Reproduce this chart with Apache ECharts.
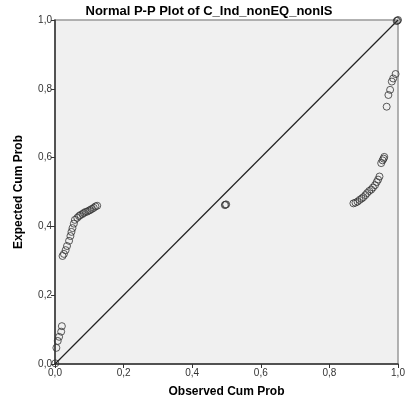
<!DOCTYPE html>
<html>
<head>
<meta charset="utf-8">
<script src="https://cdn.jsdelivr.net/npm/echarts@6/dist/echarts.min.js"></script>
<style>
html,body{margin:0;padding:0;background:#fff;}
#chart{width:418px;height:411px;}
</style>
</head>
<body>
<div id="chart"></div>
<script>
var titleText = 'Normal P-P Plot of C_Ind_nonEQ_nonIS';
var xAxisName = 'Observed Cum Prob';
var yAxisName = 'Expected Cum Prob';

// Observed cumulative probability (x) and expected cumulative probability (y)
var observed = [
  0.001, 0.004, 0.008, 0.012, 0.018, 0.020,
  0.022, 0.026, 0.031, 0.035, 0.041, 0.045, 0.048, 0.051, 0.055, 0.058,
  0.065, 0.070, 0.074, 0.080, 0.084, 0.089, 0.094, 0.099, 0.103, 0.108,
  0.113, 0.118, 0.123,
  0.495, 0.497, 0.499,
  0.870, 0.876, 0.882, 0.888, 0.894, 0.899, 0.905, 0.910, 0.916, 0.922,
  0.927, 0.933, 0.938, 0.942, 0.946, 0.951, 0.955, 0.958, 0.960,
  0.967, 0.972, 0.977, 0.982, 0.986,
  0.993, 0.996, 0.998, 1.000
];
var expected = [
  0.002, 0.047, 0.067, 0.079, 0.094, 0.110,
  0.314, 0.320, 0.331, 0.343, 0.358, 0.372, 0.384, 0.395, 0.408, 0.419,
  0.425, 0.430, 0.433, 0.436, 0.439, 0.442, 0.443, 0.446, 0.448, 0.451,
  0.454, 0.458, 0.460,
  0.462, 0.463, 0.464,
  0.467, 0.469, 0.472, 0.477, 0.481, 0.485, 0.491, 0.497, 0.503, 0.507,
  0.513, 0.520, 0.529, 0.536, 0.545, 0.584, 0.592, 0.597, 0.602,
  0.748, 0.782, 0.797, 0.821, 0.830, 0.843,
  0.997, 0.998, 1.000
];
var diagonal = [[0, 0], [1, 1]];

var pts = [];
var n = Math.min(observed.length, expected.length);
for (var i = 0; i < n; i++) pts.push([observed[i], expected[i]]);

var chart = echarts.init(document.getElementById('chart'), null, {renderer: 'canvas'});
var fmt = function (v) { return v.toFixed(1).replace('.', ','); };
chart.setOption({
  animation: false,
  backgroundColor: '#ffffff',
  title: {
    text: titleText,
    left: 204, top: 0, textAlign: 'center',
    textStyle: {fontFamily: 'Liberation Sans, Arial, sans-serif', fontSize: 13, fontWeight: 'bold', color: '#000'}
  },
  grid: {
    left: 55, right: 20, top: 20, bottom: 47,
    show: true, backgroundColor: '#f0f0f0', borderColor: '#999', borderWidth: 1.5
  },
  xAxis: {
    type: 'value', min: 0, max: 1, interval: 0.2,
    name: xAxisName, nameLocation: 'middle', nameGap: 22,
    nameTextStyle: {fontFamily: 'Liberation Sans, Arial, sans-serif', fontSize: 12, fontWeight: 'bold', color: '#000'},
    axisLine: {show: true, lineStyle: {color: '#333', width: 1.5}},
    axisTick: {show: true, length: 4, lineStyle: {color: '#333'}},
    axisLabel: {formatter: fmt, fontFamily: 'Liberation Sans, Arial, sans-serif', fontSize: 10, color: '#333', margin: 4},
    splitLine: {show: false}
  },
  yAxis: {
    type: 'value', min: 0, max: 1, interval: 0.2,
    name: yAxisName, nameLocation: 'middle', nameGap: 30,
    nameTextStyle: {fontFamily: 'Liberation Sans, Arial, sans-serif', fontSize: 12, fontWeight: 'bold', color: '#000'},
    axisLine: {show: true, lineStyle: {color: '#333', width: 1.5}},
    axisTick: {show: true, length: 4, lineStyle: {color: '#333'}},
    axisLabel: {formatter: fmt, fontFamily: 'Liberation Sans, Arial, sans-serif', fontSize: 10, color: '#333', margin: 3},
    splitLine: {show: false}
  },
  series: [
    {
      type: 'line', data: diagonal, symbol: 'none', silent: true,
      lineStyle: {color: '#222', width: 1.2}, z: 2
    },
    {
      type: 'scatter', data: pts, symbol: 'circle', symbolSize: 7,
      itemStyle: {color: 'rgba(0,0,0,0)', borderColor: '#333', borderWidth: 1}, z: 3
    }
  ]
});
</script>
</body>
</html>
